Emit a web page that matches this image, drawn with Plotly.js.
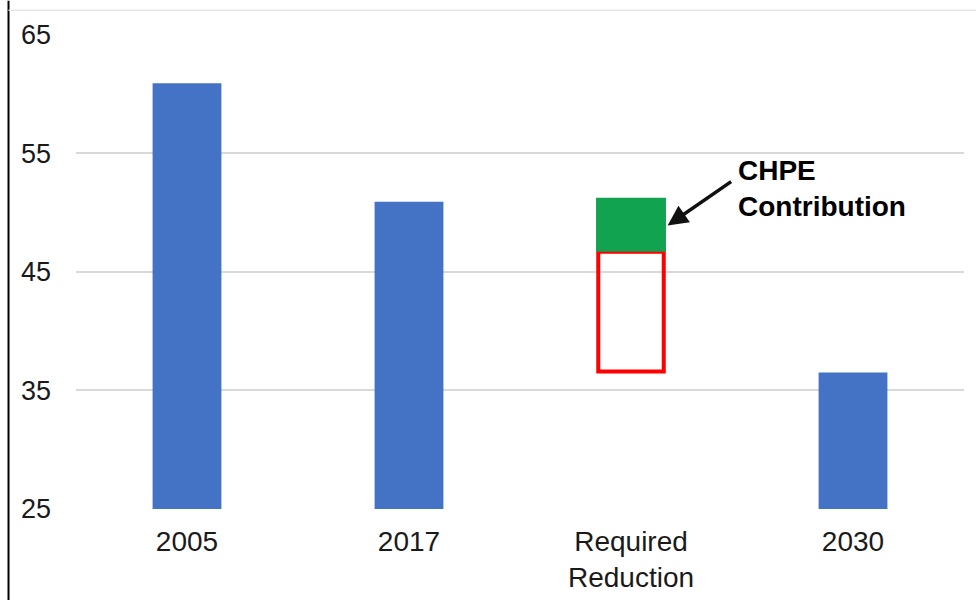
<!DOCTYPE html>
<html>
<head>
<meta charset="utf-8">
<script src="https://cdn.plot.ly/plotly-3.0.1.min.js"></script>
<style>html,body{margin:0;padding:0;background:#fff;}#chart{width:976px;height:600px;}</style>
</head>
<body>
<div id="chart"></div>
<script>
// Data
const categories = ['2005', '2017', 'Required<br>Reduction', '2030'];
const emissions = [60.9, 50.9, null, 36.5];
const reqCategory = ['Required<br>Reduction'];
const reductionLow = [36.6];   // bottom of required reduction (2030 target)
const reductionMid = [46.7];   // bottom of CHPE contribution
const reductionHigh = [51.25]; // top of CHPE contribution
const yTicks = [25, 35, 45, 55, 65];

const traces = [
  {
    type: 'bar', x: categories, y: emissions,
    marker: {color: '#4472C4'}, width: 0.31, hoverinfo: 'x+y'
  },
  {
    type: 'bar', x: reqCategory,
    base: reductionLow, y: reductionMid.map((v, i) => v - reductionLow[i]),
    marker: {color: 'rgba(255,255,255,0)', line: {color: '#FF0000', width: 4}},
    width: 0.295
  },
  {
    type: 'bar', x: reqCategory,
    base: reductionMid, y: reductionHigh.map((v, i) => v - reductionMid[i]),
    marker: {color: '#11A34F'}, width: 0.315
  }
];

const layout = {
  width: 976, height: 600,
  margin: {l: 76, r: 12, t: 34, b: 91},
  paper_bgcolor: '#fff', plot_bgcolor: '#fff',
  showlegend: false,
  barmode: 'overlay',
  font: {family: 'Liberation Sans, Arial, sans-serif', color: '#1a1a1a'},
  xaxis: {
    type: 'category', categoryorder: 'array', categoryarray: categories,
    range: [-0.5, 3.5],
    showgrid: false, zeroline: false, showline: false,
    tickfont: {size: 28, color: '#1a1a1a'},
    ticklabelstandoff: 13
  },
  yaxis: {
    range: [25, 65.05], tickvals: yTicks, ticktext: yTicks.map(String),
    showgrid: true, gridcolor: '#d9d9d9', gridwidth: 2,
    zeroline: false, showline: false,
    tickfont: {size: 27, color: '#1a1a1a'},
    ticklabelstandoff: 24
  },
  shapes: [
    {type: 'line', xref: 'paper', yref: 'paper', x0: -0.076, x1: -0.076, y0: -0.2, y1: 1.07,
     line: {color: '#000', width: 2}},
    {type: 'line', xref: 'paper', yref: 'paper', x0: -0.076, x1: 1.02, y0: 1.05, y1: 1.05,
     line: {color: '#e6e6e6', width: 1.5}}
  ],
  annotations: [
    {
      x: 2.475, y: 55.0, xref: 'x', yref: 'y', xanchor: 'left', yanchor: 'top',
      text: '<b>CHPE<br>Contribution</b>', align: 'left', showarrow: false,
      font: {size: 28, color: '#000'}
    },
    {
      x: 2.165, y: 48.9, xref: 'x', yref: 'y',
      ax: 65, ay: -45, text: '', showarrow: true,
      arrowhead: 2, arrowsize: 1.15, arrowwidth: 3.5, arrowcolor: '#111', standoff: 0
    }
  ]
};

Plotly.newPlot('chart', traces, layout, {displayModeBar: false, staticPlot: true});
</script>
</body>
</html>
